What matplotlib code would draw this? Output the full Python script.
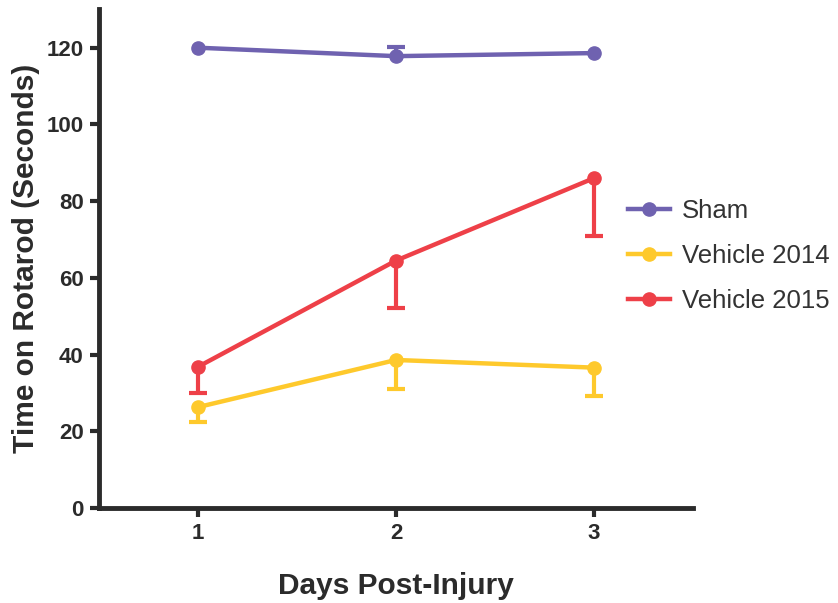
import numpy as np
import matplotlib.pyplot as plt

plt.rcParams['font.family'] = ['Liberation Sans', 'DejaVu Sans']

days = [1, 2, 3]
sham = [120.0, 117.8, 118.6]
sham_err_up = [0.0, 2.3, 0.0]
veh2014 = [26.3, 38.6, 36.6]
veh2014_err_dn = [3.8, 7.5, 7.4]
veh2015 = [36.8, 64.5, 86.0]
veh2015_err_dn = [6.9, 12.4, 15.2]

purple = '#6f62b0'
yellow = '#fec92c'
red = '#ee4048'
dark = '#2b2b2b'

fig = plt.figure(figsize=(8.38, 6.03), dpi=100)
ax = fig.add_axes([0.118, 0.1575, 0.709, 0.827])


def one_sided(x, y, err, sign, color):
    # bar from the point to the end, with a cap only at the far end
    x = np.asarray(x, float)
    y = np.asarray(y, float)
    err = np.asarray(err, float)
    keep = err > 0
    end = y + sign * err
    ax.vlines(x[keep], y[keep], end[keep], color=color, lw=3, zorder=2)
    ax.plot(x[keep], end[keep], ls='none', marker='_', ms=12.5, mew=3,
            color=color, zorder=2)


one_sided(days, veh2014, veh2014_err_dn, -1, yellow)
one_sided(days, veh2015, veh2015_err_dn, -1, red)
one_sided(days, sham, sham_err_up, 1, purple)

# lines
ax.plot(days, sham, color=purple, lw=3.2, marker='o', ms=9.5, label='Sham', zorder=3)
ax.plot(days, veh2014, color=yellow, lw=3.2, marker='o', ms=9.5, label='Vehicle 2014', zorder=3)
ax.plot(days, veh2015, color=red, lw=3.2, marker='o', ms=9.5, label='Vehicle 2015', zorder=3)

ax.set_xlim(0.5, 3.5)
ax.set_ylim(0, 130)
ax.set_xticks(days)
ax.set_yticks(np.arange(0, 121, 20))

for s in ['top', 'right']:
    ax.spines[s].set_visible(False)
for s in ['left', 'bottom']:
    ax.spines[s].set_linewidth(3.5)
    ax.spines[s].set_color(dark)
ax.tick_params(axis='both', direction='out', length=6.5, width=3, color=dark,
               labelsize=16, labelcolor=dark, pad=4.5)
for lab in ax.get_xticklabels() + ax.get_yticklabels():
    lab.set_fontweight('bold')

ax.set_xlabel('Days Post-Injury', fontsize=21.5, fontweight='bold', color=dark, labelpad=20)
ax.set_ylabel('Time on Rotarod (Seconds)', fontsize=21.5, fontweight='bold', color=dark, labelpad=5)

leg = fig.legend(loc='center left', bbox_to_anchor=(0.749, 0.5755), frameon=False,
                 fontsize=18.5, handlelength=1.65, labelspacing=0.8, handletextpad=0.45,
                 borderpad=0, borderaxespad=0)
for t in leg.get_texts():
    t.set_color('#333333')

fig.savefig('out.png', dpi=100)
